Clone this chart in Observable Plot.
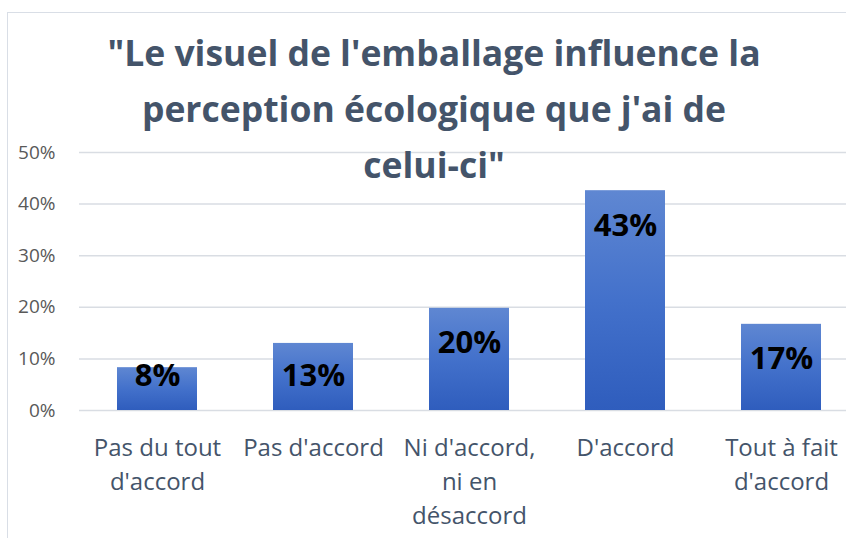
<!DOCTYPE html>
<html>
<head>
<meta charset="utf-8">
<script src="https://cdn.jsdelivr.net/npm/d3@7"></script>
<script src="https://cdn.jsdelivr.net/npm/@observablehq/plot@0.6"></script>
<style>
  html, body { margin: 0; padding: 0; background: #fff; overflow: hidden; }
  #wrap { position: relative; width: 846px; height: 538px; overflow: hidden; }
  #border { position: absolute; left: 7px; top: 12px; width: 900px; height: 600px; border: 1px solid #D9DEE6; box-sizing: border-box; }
  #chart { position: absolute; left: 0; top: 0; }
  #title { position: absolute; left: 0; top: 24px; width: 868px; text-align: center; font-family: "Open Sans", sans-serif; font-weight: bold; font-size: 35.5px; line-height: 56px; color: #44546A; }
</style>
</head>
<body>
<div id="wrap">
  <div id="border"></div>
  <div id="chart"></div>
  <div id="title">"Le visuel de l'emballage influence la<br>perception écologique que j'ai de<br>celui-ci"</div>
</div>
<script>
const categories = ["Pas du tout d'accord", "Pas d'accord", "Ni d'accord, ni en désaccord", "D'accord", "Tout à fait d'accord"];
const axisLabels = ["Pas du tout\nd'accord", "Pas d'accord", "Ni d'accord,\nni en\ndésaccord", "D'accord", "Tout à fait\nd'accord"];
const values = [0.083, 0.130, 0.198, 0.426, 0.167];
const valueLabels = ["8%", "13%", "20%", "43%", "17%"];
const yTicks = [0, 0.1, 0.2, 0.3, 0.4, 0.5];

const data = categories.map((c, i) => ({cat: c, value: values[i], label: valueLabels[i]}));

const gradientDefs = () => {
  const ns = "http://www.w3.org/2000/svg";
  const defs = document.createElementNS(ns, "defs");
  const g = document.createElementNS(ns, "linearGradient");
  g.setAttribute("id", "barGrad");
  g.setAttribute("x1", "0"); g.setAttribute("y1", "0");
  g.setAttribute("x2", "0"); g.setAttribute("y2", "1");
  [["0%", "#5F87D2"], ["50%", "#4371CB"], ["100%", "#2F5DBD"]].forEach(([o, c]) => {
    const s = document.createElementNS(ns, "stop");
    s.setAttribute("offset", o); s.setAttribute("stop-color", c);
    g.appendChild(s);
  });
  defs.appendChild(g);
  return defs;
};

const chart = Plot.plot({
  width: 846,
  height: 538,
  marginLeft: 79,
  marginRight: -13,
  marginTop: 152,
  marginBottom: 128,
  style: {fontFamily: "'Open Sans', sans-serif", background: "transparent", overflow: "visible"},
  x: {domain: categories, paddingInner: 0.49, paddingOuter: 0.245, label: null},
  y: {domain: [0, 0.5], label: null},
  marks: [
    gradientDefs,
    Plot.gridY(yTicks, {stroke: "#D9DDE3", strokeOpacity: 1, strokeWidth: 1.5}),
    Plot.barY(data, {x: "cat", y: "value", fill: "url(#barGrad)"}),
    Plot.text(data, {
      x: "cat",
      y: d => Math.max(d.value - 0.068, 0.066),
      text: "label",
      fontSize: 31,
      fontWeight: "bold",
      fill: "#000"
    }),
    Plot.axisY(yTicks, {tickSize: 0, tickPadding: 24, tickFormat: d => d3.format(".0%")(d), fontSize: 19, fill: "#595959"}),
    Plot.axisX({tickSize: 0, tickPadding: 21, tickFormat: d => axisLabels[categories.indexOf(d)], fontSize: 24, lineHeight: 1.42, fill: "#44546A"})
  ]
});
document.getElementById("chart").appendChild(chart);
</script>
</body>
</html>
